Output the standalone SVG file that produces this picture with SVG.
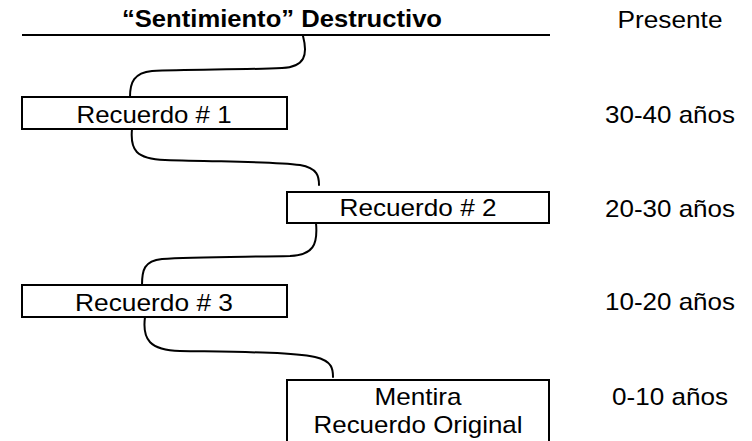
<svg xmlns="http://www.w3.org/2000/svg" width="752" height="441" viewBox="0 0 752 441">
<style>
text{font-family:"Liberation Sans",Arial,sans-serif;font-size:24px;fill:#000;text-anchor:middle}
.t{font-weight:bold}
.box{fill:#fff;stroke:#000;stroke-width:2}
.c{fill:none;stroke:#000;stroke-width:2;stroke-linecap:round}
</style>
<rect width="752" height="441" fill="#fff"/>
<g id="header">
<text class="t" x="282" y="27" textLength="320" lengthAdjust="spacingAndGlyphs">“Sentimiento” Destructivo</text>
<line x1="22" y1="35" x2="550" y2="35" stroke="#000" stroke-width="2"/>
<text x="670" y="28" textLength="105" lengthAdjust="spacingAndGlyphs">Presente</text>
</g>
<g id="connectors">
<path class="c" d="M303,36 C308,55 305,67 282,68 C240,70 185,69 152,71 C134,73 130,82 130,97"/>
<path class="c" d="M132,129 C130,150 136,159 165,160 C220,162 272,161 300,165 C318,168 319,177 319,185"/>
<path class="c" d="M316,223 C318,245 313,255 290,256 C240,257 190,257 162,259 C144,261 142,270 142,285"/>
<path class="c" d="M145,317 C142,340 150,350 180,351 C240,352 290,352 315,357 C333,361 333,370 333,377"/>
</g>
<g id="node1">
<rect class="box" x="22" y="97" width="265" height="32"/>
<text x="154" y="123" textLength="155" lengthAdjust="spacingAndGlyphs">Recuerdo # 1</text>
</g>
<g id="node2">
<rect class="box" x="287" y="192" width="262" height="31"/>
<text x="418" y="216" textLength="157" lengthAdjust="spacingAndGlyphs">Recuerdo # 2</text>
</g>
<g id="node3">
<rect class="box" x="22" y="285" width="265" height="32"/>
<text x="154" y="311" textLength="158" lengthAdjust="spacingAndGlyphs">Recuerdo # 3</text>
</g>
<g id="node4">
<rect class="box" x="287" y="380" width="262" height="70"/>
<text x="418" y="405" textLength="87" lengthAdjust="spacingAndGlyphs">Mentira</text>
<text x="418" y="433" textLength="209" lengthAdjust="spacingAndGlyphs">Recuerdo Original</text>
</g>
<g id="timeline">
<text x="670" y="123" textLength="130" lengthAdjust="spacingAndGlyphs">30-40 años</text>
<text x="670" y="217" textLength="130" lengthAdjust="spacingAndGlyphs">20-30 años</text>
<text x="670" y="310" textLength="130" lengthAdjust="spacingAndGlyphs">10-20 años</text>
<text x="670" y="405" textLength="116" lengthAdjust="spacingAndGlyphs">0-10 años</text>
</g>
</svg>
